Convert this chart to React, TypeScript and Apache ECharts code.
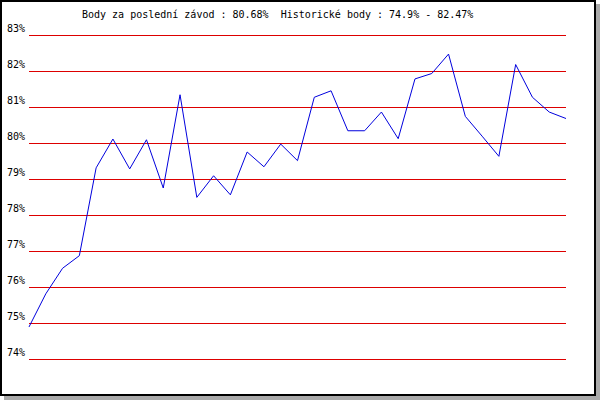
import React, { useEffect, useRef } from "react";
import * as echarts from "echarts";

const titleText = "Body za poslední závod : 80.68%  Historické body : 74.9% - 82.47%";
const races = Array.from({ length: 33 }, (_, i) => String(i + 1));
const points = [
  74.89, 75.81, 76.52, 76.87, 79.31, 80.11, 79.28, 80.09, 78.75, 81.34, 78.49,
  79.09, 78.56, 79.75, 79.34, 79.97, 79.51, 81.27, 81.45, 80.34, 80.34, 80.86,
  80.12, 81.78, 81.93, 82.47, 80.74, 80.19, 79.63, 82.18, 81.27, 80.86, 80.68,
];
const yMin = 74;
const yMax = 83;
const yStep = 1;

const FONT = "'DejaVu Sans Mono', 'Liberation Mono', monospace";

export default function App() {
  const ref = useRef<HTMLDivElement>(null);
  useEffect(() => {
    if (!ref.current) return;
    const chart = echarts.init(ref.current, null, { renderer: "svg" });
    chart.setOption({
      animation: false,
      backgroundColor: "#ffffff",
      title: {
        text: titleText,
        left: 82,
        top: 9,
        padding: 0,
        textStyle: {
          fontFamily: FONT,
          fontSize: 10,
          fontWeight: "normal",
          color: "#000000",
        },
      },
      graphic: [
        {
          type: "rect",
          z: -100,
          silent: true,
          shape: { x: 4, y: 4, width: 596, height: 396 },
          style: { fill: "#aaaaaa" },
        },
        {
          type: "rect",
          z: -99,
          silent: true,
          shape: { x: 1, y: 1, width: 594, height: 394 },
          style: { fill: "#ffffff", stroke: "#000000", lineWidth: 2 },
        },
      ],
      grid: { left: 29, top: 35, width: 537, height: 324, containLabel: false },
      xAxis: {
        type: "category",
        data: races,
        boundaryGap: false,
        show: false,
      },
      yAxis: {
        type: "value",
        min: yMin,
        max: yMax,
        interval: yStep,
        axisLine: { show: false },
        axisTick: { show: false },
        axisLabel: {
          formatter: "{value}%",
          fontFamily: FONT,
          fontSize: 10,
          color: "#000000",
          margin: 4,
          verticalAlign: "bottom",
          lineHeight: 10,
          padding: [0, 0, 2, 0],
        },
        splitLine: { show: true, lineStyle: { color: "#dd0000", width: 1 } },
      },
      series: [
        {
          type: "line",
          data: points,
          symbol: "none",
          lineStyle: { color: "#0000dd", width: 1 },
          z: 5,
        },
      ],
    });
    return () => chart.dispose();
  }, []);
  return (
    <div
      ref={ref}
      style={{ position: "fixed", left: 0, top: 0, width: 600, height: 400 }}
    />
  );
}
